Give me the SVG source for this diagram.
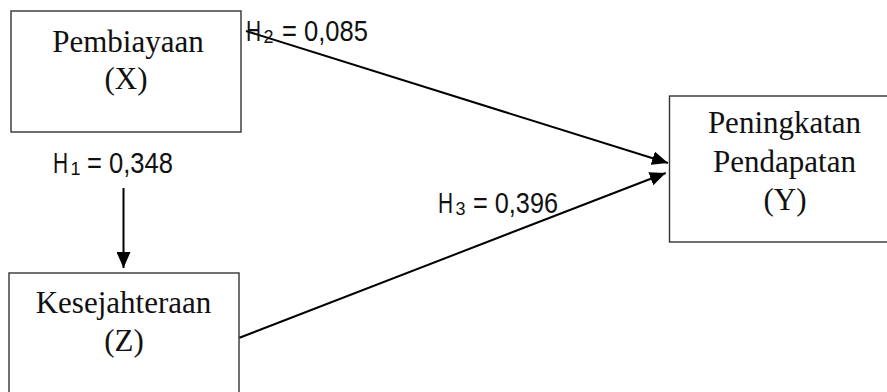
<svg xmlns="http://www.w3.org/2000/svg" width="887" height="392" viewBox="0 0 887 392">
<style>
.box{fill:#fff;stroke:#333;stroke-width:1.4}
.nt{font-family:"Liberation Serif","Times New Roman",serif;font-size:31px;fill:#111;text-anchor:middle}
.lb{font-family:"Liberation Sans",Arial,sans-serif;font-size:29px;fill:#111}
.sub{font-family:"Liberation Sans",Arial,sans-serif;font-size:18px;fill:#111}
.edge{stroke:#000;stroke-width:2;fill:none;marker-end:url(#ah)}
</style>
<defs>
<marker id="ah" viewBox="0 0 16 14" refX="16" refY="7" markerWidth="16" markerHeight="14" markerUnits="userSpaceOnUse" orient="auto">
<path d="M0,0 L16,7 L0,14 z" fill="#000"/>
</marker>
</defs>
<rect width="887" height="392" fill="#fff"/>
<g id="node-X">
<rect class="box" x="11" y="11" width="230" height="121"/>
<text class="nt" x="128" y="51.5">Pembiayaan</text>
<text class="nt" x="126" y="89">(X)</text>
</g>
<g id="node-Z">
<rect class="box" x="9" y="273" width="230" height="125"/>
<text class="nt" x="123.5" y="313">Kesejahteraan</text>
<text class="nt" x="124" y="350.5">(Z)</text>
</g>
<g id="node-Y">
<rect class="box" x="669.5" y="96" width="225" height="146"/>
<text class="nt" x="784.5" y="133">Peningkatan</text>
<text class="nt" x="784.5" y="171.5">Pendapatan</text>
<text class="nt" x="785" y="210">(Y)</text>
</g>
<g id="connectors">
<line class="edge" x1="123.5" y1="188" x2="123.5" y2="268"/>
<line class="edge" x1="246" y1="31" x2="668" y2="163"/>
<line class="edge" x1="239.5" y1="337.7" x2="665.7" y2="173"/>
</g>
<g id="labels">
<text class="lb" transform="translate(53,173) scale(0.72,1)">H</text>
<text class="sub" x="70.5" y="175">1</text>
<text class="lb" x="87" y="173" textLength="86" lengthAdjust="spacingAndGlyphs">= 0,348</text>
<text class="lb" transform="translate(246,41) scale(0.72,1)">H</text>
<text class="sub" x="263.5" y="43">2</text>
<text class="lb" x="282" y="41" textLength="86" lengthAdjust="spacingAndGlyphs">= 0,085</text>
<text class="lb" transform="translate(438,212.5) scale(0.72,1)">H</text>
<text class="sub" x="455.5" y="214.5">3</text>
<text class="lb" x="473" y="212.5" textLength="85" lengthAdjust="spacingAndGlyphs">= 0,396</text>
</g>
</svg>
